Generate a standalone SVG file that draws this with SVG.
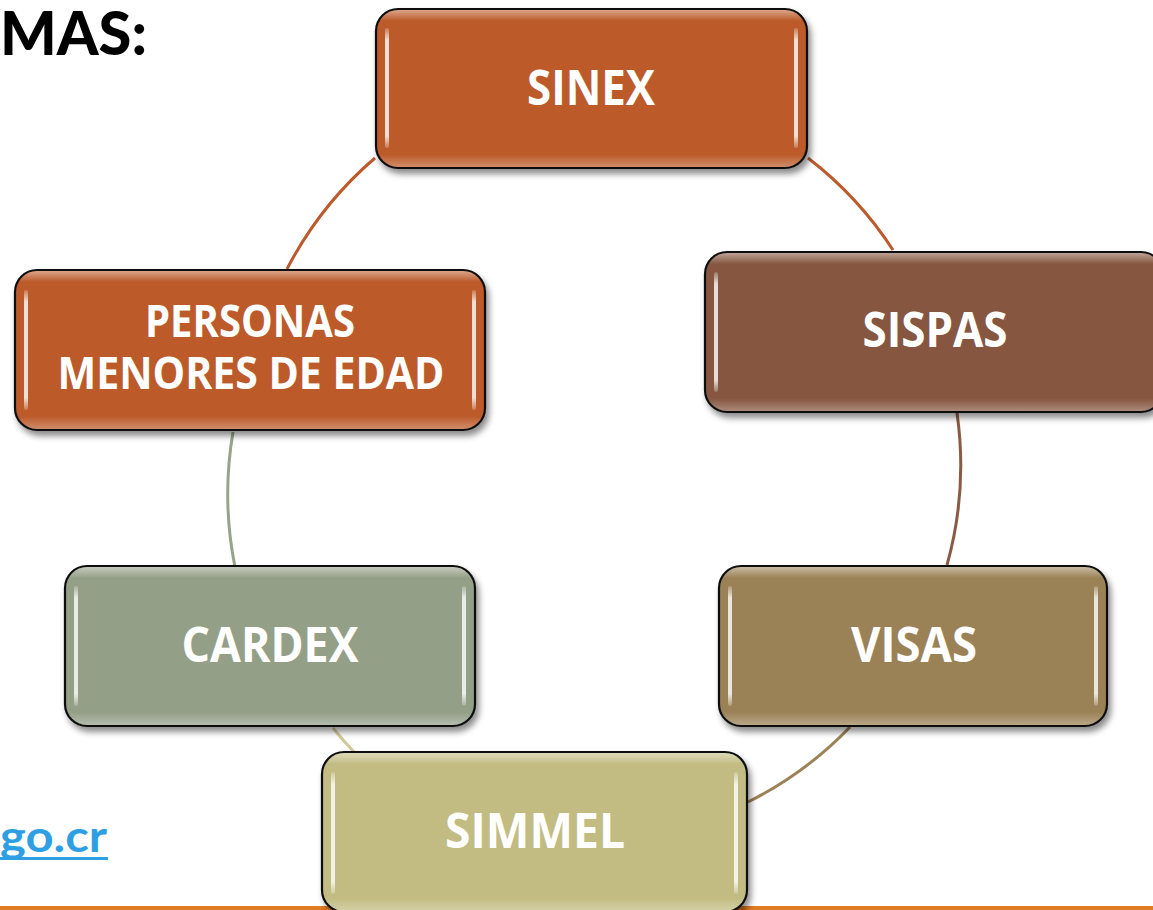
<svg xmlns="http://www.w3.org/2000/svg" width="1153" height="910" viewBox="0 0 1153 910">
<defs>
<style>
.box{stroke:#111;stroke-width:2.2}
.lbl{font-family:"Open Sans","Noto Sans","Liberation Sans",sans-serif;font-weight:bold;font-size:48px;fill:#fff;text-anchor:middle}
.lbl2{font-size:45px}
.con{fill:none;stroke-width:3}
.strip{fill:url(#strip)}
.gloss{fill:url(#gloss)}
</style>
<filter id="sh" x="-10%" y="-10%" width="125%" height="130%">
<feDropShadow dx="3" dy="5" stdDeviation="3" flood-color="#000" flood-opacity="0.45"/>
</filter>
<linearGradient id="gloss" x1="0" y1="0" x2="0" y2="1">
<stop offset="0" stop-color="#fff" stop-opacity="0.45"/>
<stop offset="0.07" stop-color="#fff" stop-opacity="0"/>
<stop offset="0.92" stop-color="#fff" stop-opacity="0"/>
<stop offset="1" stop-color="#fff" stop-opacity="0.3"/>
</linearGradient>
<linearGradient id="strip" x1="0" y1="0" x2="0" y2="1">
<stop offset="0" stop-color="#fff" stop-opacity="0.2"/>
<stop offset="0.1" stop-color="#fff" stop-opacity="0.8"/>
<stop offset="0.9" stop-color="#fff" stop-opacity="0.8"/>
<stop offset="1" stop-color="#fff" stop-opacity="0.2"/>
</linearGradient>
</defs>
<rect x="0" y="0" width="1153" height="910" fill="#fff"/>
<rect x="0" y="906" width="1153" height="4" fill="#E07B22"/>
<text x="0" y="55" font-family="Lato,'Noto Sans','Liberation Sans',sans-serif" font-weight="900" font-size="60" fill="#000" textLength="147" lengthAdjust="spacingAndGlyphs">MAS:</text>
<g id="link">
<text x="0" y="852" font-family="Lato,'Noto Sans','Liberation Sans',sans-serif" font-weight="bold" font-size="44" fill="#2E9FE3" textLength="107" lengthAdjust="spacingAndGlyphs">go.cr</text>
<rect x="0" y="857" width="108" height="3" fill="#2E9FE3"/>
</g>
<g id="connectors">
<path class="con" stroke="#BC5A2C" d="M375,158 A370,370 0 0,0 287,269"/>
<path class="con" stroke="#BC5A2C" d="M808,158 A370,370 0 0,1 893,250"/>
<path class="con" stroke="#97A38A" d="M233,432 A370,370 0 0,0 235,567"/>
<path class="con" stroke="#8B5A42" d="M957,413 A370,370 0 0,1 947,565"/>
<path class="con" stroke="#CFC99A" d="M333,728 A370,370 0 0,0 355,753"/>
<path class="con" stroke="#9C8257" d="M850,727 A370,370 0 0,1 748,802"/>
</g>
<g id="sinex">
<rect class="box" x="376" y="9" width="431" height="159" rx="22" fill="#BC5A2C" filter="url(#sh)"/>
<rect class="gloss" x="377" y="10" width="429" height="157" rx="21"/>
<rect class="strip" x="385" y="28" width="4" height="120" rx="2"/>
<rect class="strip" x="794" y="28" width="4" height="120" rx="2"/>
<text class="lbl" x="591" y="105" textLength="128" lengthAdjust="spacingAndGlyphs">SINEX</text>
</g>
<g id="sispas">
<rect class="box" x="705" y="252" width="458" height="160" rx="22" fill="#865741" filter="url(#sh)"/>
<rect class="gloss" x="706" y="253" width="456" height="158" rx="21"/>
<rect class="strip" x="714" y="272" width="4" height="120" rx="2"/>
<text class="lbl" x="935" y="347" textLength="145" lengthAdjust="spacingAndGlyphs">SISPAS</text>
</g>
<g id="personas">
<rect class="box" x="15" y="270" width="470" height="160" rx="22" fill="#BC5A2C" filter="url(#sh)"/>
<rect class="gloss" x="16" y="271" width="468" height="158" rx="21"/>
<rect class="strip" x="24" y="290" width="4" height="120" rx="2"/>
<rect class="strip" x="472" y="290" width="4" height="120" rx="2"/>
<text class="lbl lbl2" x="250" y="337" textLength="210" lengthAdjust="spacingAndGlyphs">PERSONAS</text>
<text class="lbl lbl2" x="251" y="389" textLength="387" lengthAdjust="spacingAndGlyphs">MENORES DE EDAD</text>
</g>
<g id="cardex">
<rect class="box" x="65" y="566" width="410" height="160" rx="22" fill="#949F88" filter="url(#sh)"/>
<rect class="gloss" x="66" y="567" width="408" height="158" rx="21"/>
<rect class="strip" x="74" y="586" width="4" height="120" rx="2"/>
<rect class="strip" x="462" y="586" width="4" height="120" rx="2"/>
<text class="lbl" x="270" y="662" textLength="177" lengthAdjust="spacingAndGlyphs">CARDEX</text>
</g>
<g id="visas">
<rect class="box" x="719" y="566" width="388" height="160" rx="22" fill="#9B8257" filter="url(#sh)"/>
<rect class="gloss" x="720" y="567" width="386" height="158" rx="21"/>
<rect class="strip" x="728" y="586" width="4" height="120" rx="2"/>
<rect class="strip" x="1094" y="586" width="4" height="120" rx="2"/>
<text class="lbl" x="914" y="662" textLength="126" lengthAdjust="spacingAndGlyphs">VISAS</text>
</g>
<g id="simmel">
<rect class="box" x="322" y="752" width="425" height="160" rx="22" fill="#C2BC82" filter="url(#sh)"/>
<rect class="gloss" x="323" y="753" width="423" height="158" rx="21"/>
<rect class="strip" x="331" y="772" width="4" height="122" rx="2"/>
<rect class="strip" x="734" y="772" width="4" height="122" rx="2"/>
<text class="lbl" x="535" y="848" textLength="180" lengthAdjust="spacingAndGlyphs">SIMMEL</text>
</g>
</svg>
